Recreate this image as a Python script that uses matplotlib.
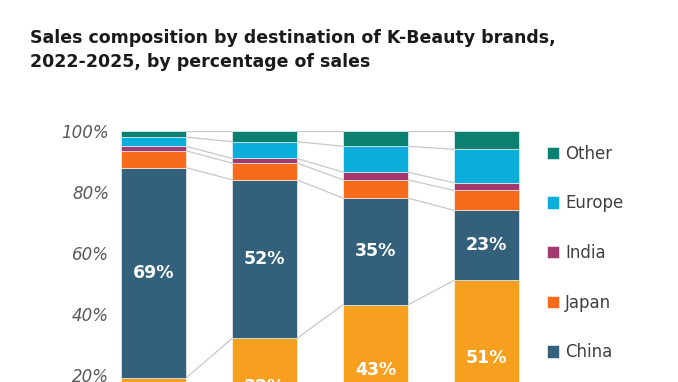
import numpy as np
import matplotlib.pyplot as plt

years = ["2022", "2023", "2024", "2025"]
# bottom to top
series = ["US", "China", "Japan", "India", "Europe", "Other"]
us = [19, 32, 43, 51]
china = [69, 52, 35, 23]
japan = [5.5, 5.5, 6, 6.5]
india = [1.5, 1.5, 2.5, 2.5]
europe = [3, 5.5, 8.5, 11]
other = [2, 3.5, 5, 6]
colors = ["#F7A01F", "#33617C", "#F76B1C", "#A23A6E", "#0BAEDB", "#0C8070"]
labelled = ["US", "China"]

values = [us, china, japan, india, europe, other]

fig = plt.figure(figsize=(6.78, 3.82), dpi=100)
ax = fig.add_axes([98 / 678, -54 / 382, 444 / 678, 305 / 382])

x = np.arange(len(years))
w = 0.585
bottom = np.zeros(len(years))
handles = []
tops = [bottom.copy()]
for name, vals, c in zip(series, values, colors):
    vals = np.array(vals, dtype=float)
    b = ax.bar(x, vals, w, bottom=bottom, color=c, edgecolor="white", linewidth=0.4, label=name)
    handles.append(b)
    if name in labelled:
        for xi, v, b0 in zip(x, vals, bottom):
            ax.text(xi, b0 + v / 2, f"{v:.0f}%", ha="center", va="center",
                    color="white", fontsize=12.5, fontweight="bold")
    bottom = bottom + vals
    tops.append(bottom.copy())

# connector lines between bars
for cum in tops[1:]:
    for i in range(len(years) - 1):
        ax.plot([x[i] + w / 2, x[i + 1] - w / 2], [cum[i], cum[i + 1]],
                color="#C8C8C8", linewidth=0.9, zorder=0)

ax.set_xlim(-0.5, 3.5)
ax.set_ylim(0, 100)
ax.set_yticks([0, 20, 40, 60, 80, 100])
ax.set_yticklabels([f"{t}%" for t in [0, 20, 40, 60, 80, 100]], fontsize=12,
                   fontstyle="italic", color="#595959")
ax.tick_params(axis="y", length=0, pad=-8)
ax.set_xticks([])
for s in ax.spines.values():
    s.set_visible(False)

leg = fig.legend(handles[::-1], series[::-1], loc="upper left",
                 bbox_to_anchor=(540 / 678, 1 - 138 / 382), frameon=False,
                 fontsize=12, labelspacing=1.9, handlelength=0.75, handleheight=0.75,
                 handletextpad=0.35, borderaxespad=0)
for t in leg.get_texts():
    t.set_color("#404040")

fig.text(30 / 678, 1 - 29 / 382, "Sales composition by destination of K-Beauty brands,\n2022-2025, by percentage of sales",
         fontsize=12.5, fontweight="bold", color="#1a1a1a", va="top", ha="left",
         linespacing=1.4)

fig.savefig("out.png", dpi=100)
